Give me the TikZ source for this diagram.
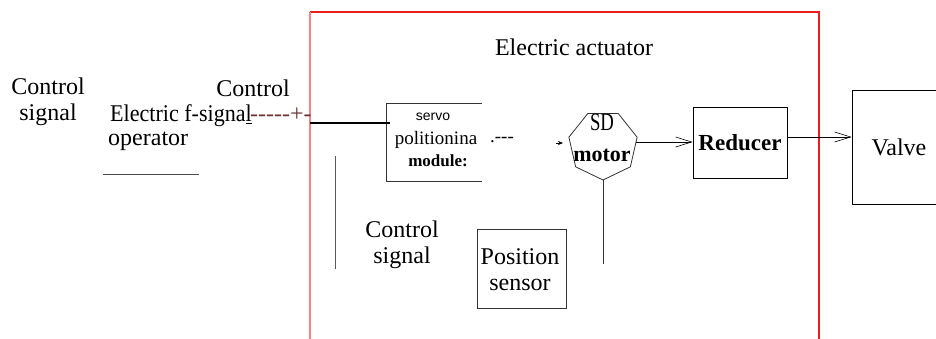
\documentclass[tikz,border=0pt]{standalone}
\usepackage{fontspec}
\setmainfont{Liberation Serif}
\setsansfont{Liberation Sans}
\usetikzlibrary{shapes.geometric,arrows.meta}
\definecolor{dashred}{RGB}{110,50,50}
\definecolor{framered}{RGB}{235,30,30}
\definecolor{framepink}{RGB}{255,130,130}
\begin{document}
\begin{tikzpicture}[x=1pt,y=-1pt,
  lbl/.style={font=\rmfamily\fontsize{24}{26}\selectfont, align=center, inner sep=0pt},
  boxed/.style={draw, line width=0.8pt, inner sep=0pt},
  ln/.style={line width=0.8pt},
  barb/.style={line width=0.8pt,-{Straight Barb[length=16pt,width=10pt,line width=0.6pt]}}
]
\useasboundingbox (0,0) rectangle (936,339);

% actuator frame
\draw[draw=framered, line width=1.2pt] (310,12) -- (819,12) -- (819,339);
\draw[draw=framepink, line width=1.2pt] (310,12) -- (310,339);
\node[lbl] (ea) at (574,47) {Electric actuator};

% left texts
\node[lbl] (cs1) at (48,102) {Control\\signal};
\node[lbl, anchor=base west] (efs) at (110,122) {\scalebox{0.92}[1]{Electric f-signa\underline{l}}};
\node[lbl, anchor=base west] (op) at (108,146) {operator};
\coordinate (ul1) at (103,174);
\coordinate (ul2) at (199,174);
\draw[ln, black!70] (ul1) -- (ul2);
\node[lbl] (cs2) at (253,88) {Control};
\node[lbl, anchor=base west, text=dashred] (dsh) at (250,122) {-{}-{}-{}-{}-+-};

% servo positioning module
\node[minimum width=95pt, minimum height=77pt, inner sep=0pt] (sv) at (434.5,142.5) {};
\draw[ln, black!80] (sv.north east) -- (sv.north west) -- (sv.south west) -- (sv.south east);
\coordinate (in) at (310,123);
\draw[line width=1.6pt] (in) -- ([xshift=3pt]sv.west |- in);
\node[font=\sffamily\fontsize{14}{14}\selectfont, inner sep=0pt] (sv1) at (433,117) {servo};
\node[font=\rmfamily\fontsize{19}{19}\selectfont, inner sep=0pt] (sv2) at (436,140) {politionina};
\node[font=\rmfamily\bfseries\fontsize{17}{17}\selectfont, inner sep=0pt] (sv3) at (438,161) {module:};
\node[font=\rmfamily\fontsize{19}{19}\selectfont, inner sep=0pt] (sv4) at (502,140) {.-{}-{}-};

% motor
\node[regular polygon, regular polygon sides=7, shape border rotate=180, draw, ln, black!80,
      minimum size=70pt, inner sep=0pt] (mot) at (603,145) {};
\node[font=\rmfamily\fontsize{25}{25}\selectfont, inner sep=0pt] (sd) at (602,122) {\scalebox{0.75}[1]{SD}};
\node[font=\rmfamily\bfseries\fontsize{22}{22}\selectfont, inner sep=0pt] (mt) at (602,155) {motor};
\coordinate (ta) at (556,143);
\coordinate (tb) at (563,143);
\draw[line width=0.6pt,-{Stealth[length=5pt,width=4pt]}] (ta) -- (tb);
\coordinate (mb) at (603,264);
\draw[ln, black!80] (mot.south) -- (mb);

% reducer and valve
\node[boxed, minimum width=94pt, minimum height=71pt, font=\rmfamily\bfseries\fontsize{23}{23}\selectfont] (red) at (740,142.5) {Reducer};
\draw[barb] (mot.east |- 0,142) -- (red.west |- 0,142);
\node[boxed, minimum width=94pt, minimum height=114pt, font=\rmfamily\fontsize{24}{24}\selectfont] (valve) at (899,147) {Valve};
\draw[barb] ([yshift=5.5pt]red.east) -- ([yshift=5.5pt]red.east -| valve.west);

% lower part
\coordinate (g1) at (335,156);
\coordinate (g2) at (335,269);
\draw[ln, black!65] (g1) -- (g2);
\node[lbl] (cs3) at (402,245) {Control\\signal};
\node[boxed, black!80, minimum width=89pt, minimum height=79pt] (ps) at (521.5,268.5) {};
\node[lbl] (pst) at (520,270) {Position\\sensor};
\end{tikzpicture}
\end{document}
